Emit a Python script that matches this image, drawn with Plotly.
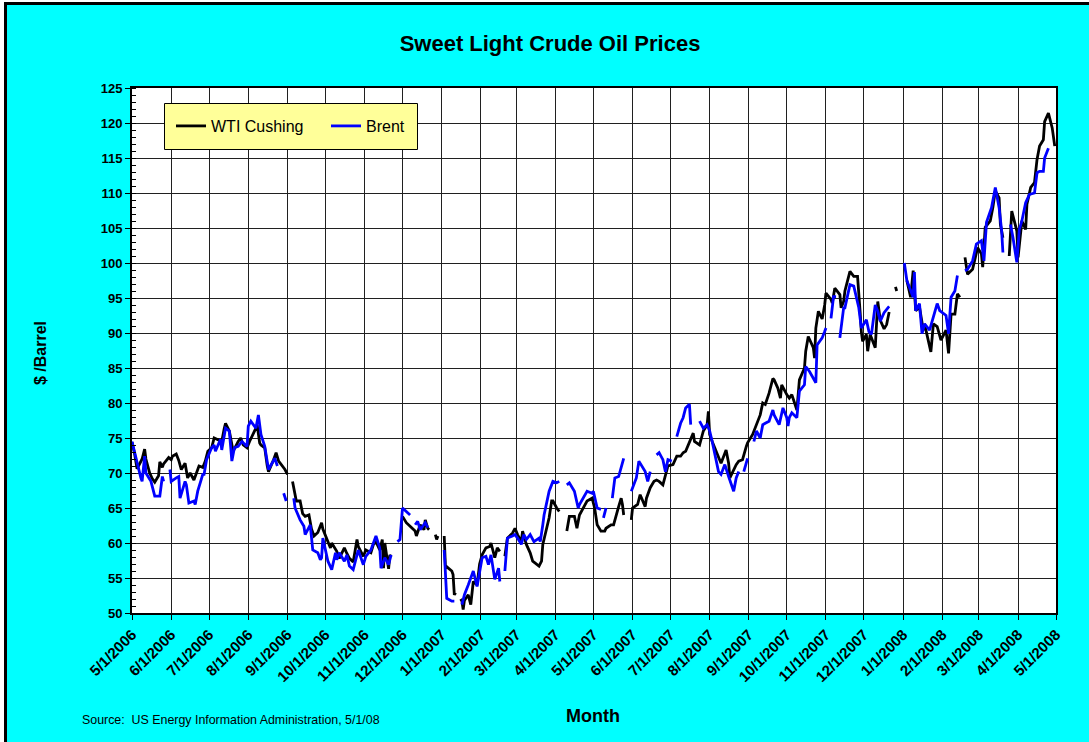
import plotly.graph_objects as go

# ---------------- data ----------------
# WTI Cushing, $/barrel (None = gap in the series)
wti_2006_days = ["05-01","05-03","05-05","05-09","05-11","05-12","05-15","05-17","05-19","05-22",
                 "05-23","05-25","05-26","05-30","06-01","06-02","06-05","06-07","06-09","06-12",
                 "06-14","06-16","06-19","06-21","06-23","06-26","06-28","06-30","07-03","07-05",
                 "07-07","07-11","07-13","07-14","07-17","07-19","07-20","07-24","07-26","07-28",
                 "07-31","08-02","08-04","08-07","08-08","08-10","08-11","08-14","08-16","08-17",
                 "08-21","08-23","08-25","08-28","08-30","09-01","09-04","09-05","09-07","09-08",
                 "09-11","09-13","09-15","09-18","09-20","09-22","09-25","09-28","09-29","10-03",
                 "10-05","10-06","10-10","10-12","10-16","10-18","10-20","10-23","10-26","10-27",
                 "10-31","11-02","11-06","11-08","11-10","11-13","11-15","11-16","11-17","11-20",
                 "11-21","11-22","11-23","12-01","12-04","12-07","12-11","12-12","12-15","12-18",
                 "12-19","12-21","12-22","12-25","12-27","12-28","12-29"]
wti_2006_vals = [74.4,72.8,70.6,72.0,73.4,72.0,70.0,69.2,68.7,69.6,
                 71.6,70.8,71.3,72.2,71.9,72.4,72.7,71.8,70.5,71.4,
                 69.3,70.0,69.0,70.0,71.0,70.8,71.7,73.1,73.6,75.0,
                 74.8,74.5,76.4,77.1,76.0,74.0,73.1,74.5,75.0,74.0,
                 73.6,74.5,75.2,76.4,76.9,74.3,74.0,73.6,71.0,70.2,
                 71.9,72.9,71.7,71.0,70.5,69.8,None,68.8,66.7,66.0,
                 66.0,64.2,63.8,64.0,62.0,61.0,61.5,62.9,62.0,60.0,
                 59.3,60.0,58.8,57.8,59.3,58.5,57.8,57.3,60.5,59.5,
                 58.1,59.0,58.6,59.8,60.2,59.0,60.5,56.4,60.0,56.3,
                 58.3,58.0,None,63.8,62.9,62.4,61.7,61.0,62.6,61.9,
                 63.3,62.1,61.9,None,61.2,60.5,61.0]

wti_2007_days = ["01-01","01-03","01-04","01-05","01-08","01-09","01-10","01-11","01-12","01-15",
                 "01-16","01-17","01-18","01-19","01-22","01-24","01-26","01-29","01-31","02-01",
                 "02-02","02-05","02-08","02-09","02-12","02-14","02-16","02-19","02-20","02-22",
                 "02-26","02-28","03-02","03-05","03-06","03-09","03-12","03-14","03-19","03-21",
                 "03-22","03-26","03-27","03-29","03-30","04-02","04-04","04-06","04-10","04-12",
                 "04-16","04-18","04-20","04-23","04-26","04-30","05-02","05-04","05-07","05-10",
                 "05-11","05-15","05-17","05-21","05-23","05-24","05-25","05-28","05-31","06-01",
                 "06-05","06-07","06-11","06-12","06-15","06-18","06-20","06-22","06-25","06-28",
                 "06-29","07-03","07-06","07-09","07-11","07-13","07-16","07-19","07-20","07-24",
                 "07-27","07-30","07-31","08-01","08-03","08-06","08-09","08-10","08-14","08-16",
                 "08-17","08-22","08-24","08-27","08-30","08-31","09-04","09-07","09-10","09-12",
                 "09-14","09-17","09-20","09-21","09-24","09-26","09-27","10-01","10-03","10-05",
                 "10-09","10-11","10-15","10-16","10-18","10-22","10-23","10-24","10-26","10-29",
                 "10-31","11-01","11-05","11-06","11-08","11-12","11-13","11-15","11-16","11-20",
                 "11-23","11-26","11-27","11-28","11-29","11-30","12-03","12-04","12-06","12-10",
                 "12-12","12-14","12-17","12-19","12-21","12-24","12-26","12-27","12-28"]
wti_2007_vals = [None,61.0,56.4,56.6,56.2,56.0,55.5,52.6,52.9,None,
                 52.0,51.7,50.5,51.8,52.6,51.2,54.5,54.0,57.0,57.9,
                 58.3,59.3,59.5,60.0,57.9,59.3,58.8,None,58.1,60.7,
                 61.4,62.1,61.2,60.2,61.7,59.8,58.6,57.4,56.7,57.4,
                 59.8,63.1,63.6,66.0,66.0,65.0,64.5,None,61.7,63.8,
                 63.8,62.1,64.0,65.0,66.0,66.4,65.0,62.6,61.7,61.7,
                 62.1,62.6,62.6,65.2,66.4,65.5,64.0,None,63.3,65.0,
                 65.5,66.9,65.2,66.4,67.9,68.8,69.0,68.8,68.3,70.2,
                 71.0,71.2,72.4,72.4,72.9,73.1,74.3,75.7,74.5,74.0,
                 76.0,76.9,78.8,75.5,74.5,73.1,71.7,71.4,73.3,71.4,
                 69.3,71.2,71.7,71.9,73.8,74.3,75.5,76.9,78.3,80.0,
                 79.8,81.4,83.5,83.3,82.1,80.7,82.6,81.2,80.7,81.2,
                 79.0,83.3,85.0,87.4,89.5,87.9,86.4,90.7,93.1,92.0,
                 94.0,95.7,94.8,94.3,96.4,95.5,93.6,94.5,96.0,98.8,
                 98.1,98.1,96.0,93.1,90.2,88.8,89.8,87.4,89.8,87.9,
                 94.5,91.8,90.6,91.2,93.0,None,96.6,96.0,None]

wti_2008_days = ["01-04","01-07","01-09","01-11","01-14","01-17","01-18","01-23","01-25","01-28",
                 "01-31","02-04","02-06","02-08","02-11","02-13","02-15","02-18","02-19","02-21",
                 "02-25","02-27","02-29","03-03","03-04","03-06","03-10","03-12","03-14","03-17",
                 "03-18","03-20","03-21","03-25","03-27","03-31","04-01","04-04","04-07","04-08",
                 "04-11","04-14","04-16","04-18","04-21","04-22","04-25","04-28","04-30"]
wti_2008_vals = [97.5,95.1,98.9,93.2,93.7,90.4,91.3,87.3,91.3,90.9,
                 89.0,90.4,87.1,92.7,92.7,95.6,95.1,None,100.8,98.4,
                 99.1,100.8,102.2,101.3,99.4,105.1,106.0,107.9,110.3,109.3,
                 105.5,103.6,None,101.0,107.4,104.6,100.8,106.0,104.8,108.4,
                 110.8,111.5,114.8,116.7,117.6,120.2,121.4,119.3,116.7]

# Brent, $/barrel
brent_2006_days = ["05-01","05-04","05-08","05-09","05-11","05-12","05-16","05-19","05-23","05-25",
                   "05-26","05-29","05-31","06-01","06-05","06-07","06-08","06-12","06-13","06-15",
                   "06-19","06-20","06-22","06-26","06-27","06-29","07-03","07-05","07-06","07-10",
                   "07-11","07-14","07-17","07-19","07-21","07-24","07-27","07-31","08-01","08-03",
                   "08-07","08-09","08-11","08-14","08-17","08-21","08-22","08-24","08-25","08-29",
                   "08-31","09-01","09-06","09-07","09-11","09-14","09-15","09-19","09-21","09-25",
                   "09-27","09-28","09-29","10-03","10-06","10-09","10-10","10-12","10-16","10-18",
                   "10-20","10-23","10-26","10-27","10-31","11-02","11-06","11-08","11-10","11-13",
                   "11-14","11-17","11-20","11-22","11-23","11-27","11-29","12-01","12-04","12-07",
                   "12-08","12-11","12-13","12-15","12-19","12-21","12-22"]
brent_2006_vals = [74.5,72.1,69.3,68.8,72.4,70.0,68.8,66.7,66.7,69.5,
                   68.8,None,70.5,68.8,69.3,69.5,66.4,68.8,68.3,65.7,
                   66.0,65.5,67.4,69.8,69.8,71.9,73.6,74.0,73.1,74.8,
                   73.3,76.4,76.0,71.7,73.6,73.8,74.5,73.8,76.7,77.4,
                   76.4,78.3,75.5,73.8,70.5,71.9,72.1,71.0,None,67.1,
                   66.0,None,66.4,65.0,63.3,62.4,61.2,62.6,59.0,58.6,
                   57.6,57.9,60.7,57.4,56.2,58.6,57.6,58.6,57.4,58.3,
                   56.7,56.2,58.3,59.0,56.9,58.1,59.0,60.0,61.0,59.3,
                   56.4,57.9,56.9,58.3,None,60.2,60.5,65.0,64.5,64.0,
                   None,62.6,63.1,61.9,62.9,62.2,None]

brent_2007_days = ["01-03","01-05","01-09","01-11","01-12","01-17","01-19","01-22","01-24","01-26",
                   "01-29","01-31","02-02","02-05","02-07","02-09","02-12","02-15","02-16","02-19",
                   "02-20","02-21","02-22","02-26","02-28","03-02","03-05","03-07","03-09","03-12",
                   "03-15","03-19","03-20","03-22","03-23","03-27","03-30","04-02","04-04","04-06",
                   "04-10","04-12","04-16","04-19","04-20","04-23","04-26","04-30","05-01","05-04",
                   "05-07","05-08","05-09","05-11","05-14","05-16","05-18","05-21","05-24","05-25",
                   "05-28","05-31","06-04","06-06","06-11","06-13","06-15","06-18","06-20","06-22",
                   "06-25","06-27","06-29","07-02","07-04","07-06","07-09","07-11","07-13","07-16",
                   "07-17","07-19","07-24","07-27","07-30","08-01","08-03","08-06","08-08","08-10",
                   "08-13","08-16","08-20","08-22","08-24","08-27","08-28","08-31","09-03","09-05",
                   "09-07","09-10","09-12","09-14","09-17","09-20","09-21","09-25","09-28","10-01",
                   "10-02","10-03","10-05","10-09","10-11","10-15","10-16","10-19","10-22","10-24",
                   "10-25","10-29","10-31","11-01","11-02","11-05","11-07","11-09","11-10","11-12",
                   "11-15","11-16","11-20","11-23","11-26","11-27","11-29","12-03","12-05","12-07",
                   "12-10","12-12","12-14","12-17","12-20","12-21","12-24"]
brent_2007_vals = [59.0,52.1,51.7,51.7,None,51.2,52.6,54.0,55.0,56.0,
                   53.8,56.0,57.9,58.1,56.9,58.3,54.8,56.4,54.5,None,
                   56.0,58.8,60.7,61.0,61.2,60.7,59.8,61.2,60.5,61.2,
                   60.2,60.7,60.2,62.6,64.0,67.4,68.8,68.6,68.8,None,
                   68.3,68.6,67.4,65.0,65.5,66.4,67.4,67.1,67.4,65.0,
                   64.8,None,63.6,65.0,None,66.4,69.3,69.5,71.7,72.1,
                   None,67.4,69.3,71.7,70.2,68.8,70.2,None,72.6,72.9,
                   71.9,70.2,71.9,71.7,None,75.2,77.1,77.9,79.3,79.8,
                   76.9,None,77.4,76.4,76.9,76.0,74.5,72.1,70.2,69.8,
                   71.2,69.5,67.4,69.3,70.2,None,70.2,72.1,None,74.5,
                   76.0,75.0,76.9,77.1,77.4,79.0,78.3,76.9,79.3,77.9,
                   76.7,77.9,78.6,77.9,81.7,82.6,85.2,84.5,83.6,82.9,
                   88.3,89.3,90.2,90.7,None,92.1,95.2,95.2,None,89.3,
                   93.6,93.6,96.9,96.7,94.5,93.6,90.7,91.9,90.2,89.8,
                   94.0,93.1,91.7,92.9,93.6,93.8,None]

brent_2008_days = ["01-02","01-04","01-09","01-10","01-11","01-14","01-16","01-18","01-22","01-25",
                   "01-28","01-30","02-04","02-06","02-08","02-11","02-13","02-15","02-19","02-21",
                   "02-25","02-26","02-28","03-03","03-05","03-07","03-10","03-11","03-14","03-17",
                   "03-19","03-20","03-21","03-26","03-28","03-31","04-02","04-04","04-07","04-10",
                   "04-14","04-16","04-18","04-21","04-22","04-25"]
brent_2008_vals = [100.0,97.5,95.1,98.7,93.2,94.2,89.9,91.3,90.4,92.5,
                   94.2,93.2,92.5,89.9,95.1,96.0,98.2,None,98.9,99.1,
                   100.3,101.3,102.7,103.2,100.3,105.8,107.2,107.9,110.8,107.9,
                   104.6,101.5,None,105.5,103.6,100.1,104.8,106.0,108.6,109.8,
                   110.0,112.9,113.1,113.1,115.0,116.4]

month_ticks = ["2006-05-01","2006-06-01","2006-07-01","2006-08-01","2006-09-01","2006-10-01",
               "2006-11-01","2006-12-01","2007-01-01","2007-02-01","2007-03-01","2007-04-01",
               "2007-05-01","2007-06-01","2007-07-01","2007-08-01","2007-09-01","2007-10-01",
               "2007-11-01","2007-12-01","2008-01-01","2008-02-01","2008-03-01","2008-04-01",
               "2008-05-01"]
month_labels = ["5/1/2006","6/1/2006","7/1/2006","8/1/2006","9/1/2006","10/1/2006",
                "11/1/2006","12/1/2006","1/1/2007","2/1/2007","3/1/2007","4/1/2007",
                "5/1/2007","6/1/2007","7/1/2007","8/1/2007","9/1/2007","10/1/2007",
                "11/1/2007","12/1/2007","1/1/2008","2/1/2008","3/1/2008","4/1/2008",
                "5/1/2008"]
y_ticks = [50, 55, 60, 65, 70, 75, 80, 85, 90, 95, 100, 105, 110, 115, 120, 125]


def join(parts):
    xs, ys = [], []
    for year, days, vals in parts:
        assert len(days) == len(vals), year
        xs += [f"{year}-{d}" for d in days]
        ys += vals
    return xs, ys


wti_x, wti_y = join([(2006, wti_2006_days, wti_2006_vals),
                     (2007, wti_2007_days, wti_2007_vals),
                     (2008, wti_2008_days, wti_2008_vals)])
brent_x, brent_y = join([(2006, brent_2006_days, brent_2006_vals),
                         (2007, brent_2007_days, brent_2007_vals),
                         (2008, brent_2008_days, brent_2008_vals)])

# ---------------- figure ----------------
FONT = "Liberation Sans, Arial, Helvetica, sans-serif"
W, H = 1089, 742
L, R, T, B = 132, 33, 88, 129
PW, PH = W - L - R, H - T - B


def px(xp):
    return (xp - L) / PW


def py(yp):
    return (H - B - yp) / PH


fig = go.Figure()
fig.add_trace(go.Scatter(x=wti_x, y=wti_y, mode="lines", name="WTI Cushing",
                         line=dict(color="#000000", width=2.8), connectgaps=False))
fig.add_trace(go.Scatter(x=brent_x, y=brent_y, mode="lines", name="Brent",
                         line=dict(color="#0000FF", width=2.8), connectgaps=False))

fig.update_layout(
    width=W, height=H,
    margin=dict(l=L, r=R, t=T, b=B, pad=0),
    paper_bgcolor="#00FFFF",
    plot_bgcolor="#FFFFFF",
    font=dict(family=FONT, color="#000000"),
    title=dict(text="Sweet Light Crude Oil Prices", x=550 / W, xanchor="center",
               y=1 - 43 / H, yanchor="middle", yref="container",
               font=dict(family=FONT, size=22, color="#000000", weight="bold")),
    showlegend=True,
    legend=dict(x=px(171), y=py(109), xanchor="left", yanchor="top",
                orientation="h", bgcolor="rgba(0,0,0,0)", borderwidth=0,
                font=dict(family=FONT, size=16, color="#000000"),
                itemwidth=30, entrywidth=110, entrywidthmode="pixels",
                itemclick=False, itemdoubleclick=False),
    hovermode=False,
)

fig.update_xaxes(type="date", range=["2006-05-01", "2008-05-01"],
                 tickmode="array", tickvals=month_ticks, ticktext=month_labels,
                 tickangle=-45, tickfont=dict(family=FONT, size=15, color="#000000", weight="bold"),
                 ticks="outside", ticklen=5, tickcolor="#000000", tickwidth=1,
                 showgrid=True, gridcolor="#202020", gridwidth=1,
                 showline=True, linecolor="#000000", linewidth=2, mirror=True,
                 zeroline=False)
fig.update_yaxes(range=[50, 125], tickmode="array", tickvals=y_ticks,
                 tickfont=dict(family=FONT, size=13, color="#000000", weight="bold"),
                 ticks="outside", ticklen=5, tickcolor="#000000", tickwidth=1,
                 showgrid=True, gridcolor="#202020", gridwidth=1,
                 showline=True, linecolor="#000000", linewidth=2, mirror=True,
                 zeroline=False,
                 minor=dict(dtick=1, tick0=50, ticks="inside", ticklen=4,
                            tickcolor="#000000", tickwidth=1, showgrid=False))

# legend box (drawn as a shape so its size matches the reference)
fig.add_shape(type="rect", xref="paper", yref="paper", layer="above",
              x0=px(164.5), x1=px(417.5), y0=py(149.5), y1=py(103.5),
              fillcolor="#FFFF99", line=dict(color="#000000", width=1))

# axis titles and source note
fig.add_annotation(text="$ /Barrel", x=px(40), y=py(353), xref="paper", yref="paper",
                   xanchor="center", yanchor="middle", showarrow=False, textangle=-90,
                   font=dict(family=FONT, size=16, color="#000000", weight="bold"))
fig.add_annotation(text="Month", x=px(593), y=py(716), xref="paper", yref="paper",
                   xanchor="center", yanchor="middle", showarrow=False,
                   font=dict(family=FONT, size=18, color="#000000", weight="bold"))
fig.add_annotation(text="Source:  US Energy Information Administration, 5/1/08",
                   x=px(80), y=py(720), xref="paper", yref="paper",
                   xanchor="left", yanchor="middle", showarrow=False,
                   font=dict(family=FONT, size=12.4, color="#000000"))

# outer chart frame (white strip + black border at top-left)
fig.add_shape(type="rect", xref="paper", yref="paper", layer="above",
              x0=px(-5), x1=px(4), y0=py(H + 20), y1=py(-10),
              fillcolor="#FFFFFF", line=dict(width=0))
fig.add_shape(type="rect", xref="paper", yref="paper", layer="above",
              x0=px(-10), x1=px(W + 20), y0=py(2), y1=py(-10),
              fillcolor="#FFFFFF", line=dict(width=0))
fig.add_shape(type="rect", xref="paper", yref="paper", layer="above",
              x0=px(5.5), x1=px(W + 40), y0=py(H + 40), y1=py(3.5),
              fillcolor="rgba(0,0,0,0)", line=dict(color="#000000", width=3))

fig.write_html("out.html", config={"displayModeBar": False},
               post_script="document.body.style.margin='0';")
